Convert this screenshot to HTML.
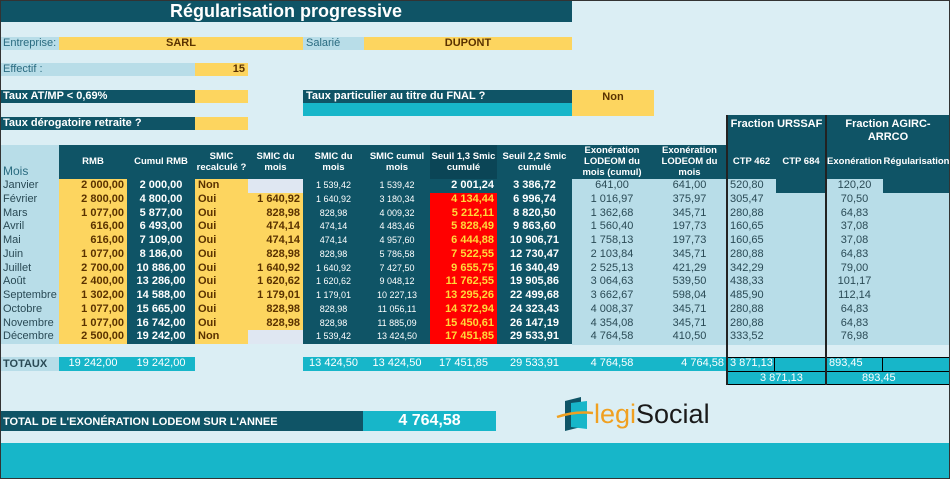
<!DOCTYPE html>
<html><head><meta charset="utf-8"><style>
*{margin:0;padding:0;box-sizing:border-box}
body{width:950px;height:479px;background:#dbeef4;font-family:"Liberation Sans",sans-serif;position:relative;overflow:hidden}
.a{position:absolute;white-space:nowrap;overflow:hidden}
.D{background:#0f5466;color:#fff}
.Y{background:#fdd55f;color:#5a3200}
.L{background:#b8dde8;color:#2a4a55}
.C{background:#17b6c9;color:#fff}
.R{background:#ff0000;color:#ffd83a}
.G{background:#dfe7f2}
.row{position:absolute;left:0;display:flex;height:13.75px}
.row div{height:13.75px;line-height:13.75px;font-size:11px;padding:0 3px;overflow:hidden;white-space:nowrap}
.b{font-weight:bold}
.r{text-align:right}.c{text-align:center}
.s{font-size:9px!important}
.hd{position:absolute;top:145px;height:33px;display:flex;align-items:center;justify-content:center;text-align:center;font-size:9.5px;font-weight:bold;color:#fff;line-height:11px}
</style></head><body>
<div class="a D" style="left:0;top:0;width:572px;height:22px;font-size:18px;font-weight:bold;text-align:center;line-height:22px">Régularisation progressive</div>

<div class="a L" style="left:0;top:37px;width:59px;height:13px;font-size:11px;line-height:13px;padding-left:3px;color:#2a6b80">Entreprise:</div>
<div class="a Y b" style="left:59px;top:37px;width:244px;height:13px;font-size:11px;line-height:13px;text-align:center">SARL</div>
<div class="a L" style="left:303px;top:37px;width:61px;height:13px;font-size:11px;line-height:13px;padding-left:3px;color:#2a6b80">Salarié</div>
<div class="a Y b" style="left:364px;top:37px;width:208px;height:13px;font-size:11px;line-height:13px;text-align:center">DUPONT</div>

<div class="a L" style="left:0;top:63px;width:195px;height:13px;font-size:11px;line-height:13px;padding-left:3px;color:#2a6b80">Effectif :</div>
<div class="a Y b" style="left:195px;top:63px;width:53px;height:13px;font-size:11px;line-height:13px;text-align:right;padding-right:3px">15</div>

<div class="a D b" style="left:0;top:90px;width:195px;height:13px;font-size:11px;line-height:13px;padding-left:3px">Taux AT/MP &lt; 0,69%</div>
<div class="a Y" style="left:195px;top:90px;width:53px;height:13px"></div>
<div class="a D b" style="left:303px;top:90px;width:269px;height:13px;font-size:11px;line-height:13px;padding-left:3px">Taux particulier au titre du FNAL ?</div>
<div class="a C" style="left:303px;top:103px;width:269px;height:13px"></div>
<div class="a Y b" style="left:572px;top:90px;width:82px;height:26px;font-size:11px;line-height:14px;text-align:center">Non</div>
<div class="a D b" style="left:0;top:117px;width:195px;height:13px;font-size:11px;line-height:13px;padding-left:3px">Taux dérogatoire retraite ?</div>
<div class="a Y" style="left:195px;top:117px;width:53px;height:13px"></div>

<div class="a D b" style="left:727px;top:115px;width:99px;height:30px;font-size:11px;text-align:center;line-height:18px">Fraction URSSAF</div>
<div class="a D b" style="left:826px;top:115px;width:124px;height:30px;font-size:11px;text-align:center;line-height:13px;padding-top:3px;white-space:normal">Fraction AGIRC-ARRCO</div>

<div class="a L" style="left:0;top:145px;width:59px;height:34px;font-size:12px;padding:19px 0 0 3px;color:#2a6b80">Mois</div>
<div class="a D" style="left:59px;top:145px;width:891px;height:34px"></div>
<div class="a" style="left:430px;top:145px;width:67px;height:34px;background:#0b4556"></div>
<div class="hd" style="left:59px;width:68px">RMB</div>
<div class="hd" style="left:127px;width:68px">Cumul RMB</div>
<div class="hd" style="left:195px;width:53px">SMIC recalculé ?</div>
<div class="hd" style="left:248px;width:55px">SMIC du mois</div>
<div class="hd" style="left:303px;width:61px">SMIC du mois</div>
<div class="hd" style="left:364px;width:66px">SMIC cumul mois</div>
<div class="hd" style="left:430px;width:67px">Seuil 1,3 Smic cumulé</div>
<div class="hd" style="left:497px;width:75px">Seuil 2,2 Smic cumulé</div>
<div class="hd" style="left:572px;width:80px">Exonération LODEOM du mois (cumul)</div>
<div class="hd" style="left:652px;width:75px">Exonération LODEOM du mois</div>
<div class="hd" style="left:727px;width:49px">CTP 462</div>
<div class="hd" style="left:776px;width:50px">CTP 684</div>
<div class="hd" style="left:826px;width:57px">Exonération</div>
<div class="hd" style="left:883px;width:67px">Régularisation</div>

<div class="a L" style="left:572px;top:179px;width:378px;height:166px"></div>

<div class="row" style="top:179px"><div class="L" style="width:59px">Janvier</div><div class="Y b r" style="width:68px">2 000,00</div><div class="D b c" style="width:68px">2 000,00</div><div class="Y b" style="width:53px">Non</div><div class="G" style="width:55px"></div><div class="D c s" style="width:61px">1 539,42</div><div class="D c s" style="width:66px">1 539,42</div><div class="D b r" style="width:67px;color:#fff">2 001,24</div><div class="D b c" style="width:75px">3 386,72</div><div class="L c" style="width:80px">641,00</div><div class="L c" style="width:75px">641,00</div><div class="L" style="width:49px">520,80</div><div class="D" style="width:50px"></div><div class="L c" style="width:57px">120,20</div><div class="D" style="width:67px"></div></div>
<div class="row" style="top:192.75px"><div class="L" style="width:59px">Février</div><div class="Y b r" style="width:68px">2 800,00</div><div class="D b c" style="width:68px">4 800,00</div><div class="Y b" style="width:53px">Oui</div><div class="Y b r" style="width:55px">1 640,92</div><div class="D c s" style="width:61px">1 640,92</div><div class="D c s" style="width:66px">3 180,34</div><div class="R b r" style="width:67px">4 134,44</div><div class="D b c" style="width:75px">6 996,74</div><div class="L c" style="width:80px">1 016,97</div><div class="L c" style="width:75px">375,97</div><div class="L" style="width:49px">305,47</div><div style="width:50px"></div><div class="L c" style="width:57px">70,50</div></div>
<div class="row" style="top:206.5px"><div class="L" style="width:59px">Mars</div><div class="Y b r" style="width:68px">1 077,00</div><div class="D b c" style="width:68px">5 877,00</div><div class="Y b" style="width:53px">Oui</div><div class="Y b r" style="width:55px">828,98</div><div class="D c s" style="width:61px">828,98</div><div class="D c s" style="width:66px">4 009,32</div><div class="R b r" style="width:67px">5 212,11</div><div class="D b c" style="width:75px">8 820,50</div><div class="L c" style="width:80px">1 362,68</div><div class="L c" style="width:75px">345,71</div><div class="L" style="width:49px">280,88</div><div style="width:50px"></div><div class="L c" style="width:57px">64,83</div></div>
<div class="row" style="top:220.25px"><div class="L" style="width:59px">Avril</div><div class="Y b r" style="width:68px">616,00</div><div class="D b c" style="width:68px">6 493,00</div><div class="Y b" style="width:53px">Oui</div><div class="Y b r" style="width:55px">474,14</div><div class="D c s" style="width:61px">474,14</div><div class="D c s" style="width:66px">4 483,46</div><div class="R b r" style="width:67px">5 828,49</div><div class="D b c" style="width:75px">9 863,60</div><div class="L c" style="width:80px">1 560,40</div><div class="L c" style="width:75px">197,73</div><div class="L" style="width:49px">160,65</div><div style="width:50px"></div><div class="L c" style="width:57px">37,08</div></div>
<div class="row" style="top:234px"><div class="L" style="width:59px">Mai</div><div class="Y b r" style="width:68px">616,00</div><div class="D b c" style="width:68px">7 109,00</div><div class="Y b" style="width:53px">Oui</div><div class="Y b r" style="width:55px">474,14</div><div class="D c s" style="width:61px">474,14</div><div class="D c s" style="width:66px">4 957,60</div><div class="R b r" style="width:67px">6 444,88</div><div class="D b c" style="width:75px">10 906,71</div><div class="L c" style="width:80px">1 758,13</div><div class="L c" style="width:75px">197,73</div><div class="L" style="width:49px">160,65</div><div style="width:50px"></div><div class="L c" style="width:57px">37,08</div></div>
<div class="row" style="top:247.75px"><div class="L" style="width:59px">Juin</div><div class="Y b r" style="width:68px">1 077,00</div><div class="D b c" style="width:68px">8 186,00</div><div class="Y b" style="width:53px">Oui</div><div class="Y b r" style="width:55px">828,98</div><div class="D c s" style="width:61px">828,98</div><div class="D c s" style="width:66px">5 786,58</div><div class="R b r" style="width:67px">7 522,55</div><div class="D b c" style="width:75px">12 730,47</div><div class="L c" style="width:80px">2 103,84</div><div class="L c" style="width:75px">345,71</div><div class="L" style="width:49px">280,88</div><div style="width:50px"></div><div class="L c" style="width:57px">64,83</div></div>
<div class="row" style="top:261.5px"><div class="L" style="width:59px">Juillet</div><div class="Y b r" style="width:68px">2 700,00</div><div class="D b c" style="width:68px">10 886,00</div><div class="Y b" style="width:53px">Oui</div><div class="Y b r" style="width:55px">1 640,92</div><div class="D c s" style="width:61px">1 640,92</div><div class="D c s" style="width:66px">7 427,50</div><div class="R b r" style="width:67px">9 655,75</div><div class="D b c" style="width:75px">16 340,49</div><div class="L c" style="width:80px">2 525,13</div><div class="L c" style="width:75px">421,29</div><div class="L" style="width:49px">342,29</div><div style="width:50px"></div><div class="L c" style="width:57px">79,00</div></div>
<div class="row" style="top:275.25px"><div class="L" style="width:59px">Août</div><div class="Y b r" style="width:68px">2 400,00</div><div class="D b c" style="width:68px">13 286,00</div><div class="Y b" style="width:53px">Oui</div><div class="Y b r" style="width:55px">1 620,62</div><div class="D c s" style="width:61px">1 620,62</div><div class="D c s" style="width:66px">9 048,12</div><div class="R b r" style="width:67px">11 762,55</div><div class="D b c" style="width:75px">19 905,86</div><div class="L c" style="width:80px">3 064,63</div><div class="L c" style="width:75px">539,50</div><div class="L" style="width:49px">438,33</div><div style="width:50px"></div><div class="L c" style="width:57px">101,17</div></div>
<div class="row" style="top:289px"><div class="L" style="width:59px">Septembre</div><div class="Y b r" style="width:68px">1 302,00</div><div class="D b c" style="width:68px">14 588,00</div><div class="Y b" style="width:53px">Oui</div><div class="Y b r" style="width:55px">1 179,01</div><div class="D c s" style="width:61px">1 179,01</div><div class="D c s" style="width:66px">10 227,13</div><div class="R b r" style="width:67px">13 295,26</div><div class="D b c" style="width:75px">22 499,68</div><div class="L c" style="width:80px">3 662,67</div><div class="L c" style="width:75px">598,04</div><div class="L" style="width:49px">485,90</div><div style="width:50px"></div><div class="L c" style="width:57px">112,14</div></div>
<div class="row" style="top:302.75px"><div class="L" style="width:59px">Octobre</div><div class="Y b r" style="width:68px">1 077,00</div><div class="D b c" style="width:68px">15 665,00</div><div class="Y b" style="width:53px">Oui</div><div class="Y b r" style="width:55px">828,98</div><div class="D c s" style="width:61px">828,98</div><div class="D c s" style="width:66px">11 056,11</div><div class="R b r" style="width:67px">14 372,94</div><div class="D b c" style="width:75px">24 323,43</div><div class="L c" style="width:80px">4 008,37</div><div class="L c" style="width:75px">345,71</div><div class="L" style="width:49px">280,88</div><div style="width:50px"></div><div class="L c" style="width:57px">64,83</div></div>
<div class="row" style="top:316.5px"><div class="L" style="width:59px">Novembre</div><div class="Y b r" style="width:68px">1 077,00</div><div class="D b c" style="width:68px">16 742,00</div><div class="Y b" style="width:53px">Oui</div><div class="Y b r" style="width:55px">828,98</div><div class="D c s" style="width:61px">828,98</div><div class="D c s" style="width:66px">11 885,09</div><div class="R b r" style="width:67px">15 450,61</div><div class="D b c" style="width:75px">26 147,19</div><div class="L c" style="width:80px">4 354,08</div><div class="L c" style="width:75px">345,71</div><div class="L" style="width:49px">280,88</div><div style="width:50px"></div><div class="L c" style="width:57px">64,83</div></div>
<div class="row" style="top:330.25px"><div class="L" style="width:59px">Décembre</div><div class="Y b r" style="width:68px">2 500,00</div><div class="D b c" style="width:68px">19 242,00</div><div class="Y b" style="width:53px">Non</div><div class="G" style="width:55px"></div><div class="D c s" style="width:61px">1 539,42</div><div class="D c s" style="width:66px">13 424,50</div><div class="R b r" style="width:67px">17 451,85</div><div class="D b c" style="width:75px">29 533,91</div><div class="L c" style="width:80px">4 764,58</div><div class="L c" style="width:75px">410,50</div><div class="L" style="width:49px">333,52</div><div style="width:50px"></div><div class="L c" style="width:57px">76,98</div></div>

<div class="a L b" style="left:0;top:357px;width:59px;height:14px;font-size:11px;line-height:14px;padding-left:3px">TOTAUX</div>
<div class="a C" style="left:59px;top:357px;width:136px;height:14px"></div>
<div class="a C" style="left:303px;top:357px;width:647px;height:14px"></div>
<div class="a C" style="left:727px;top:371px;width:223px;height:14px"></div>
<div class="row" style="top:357px;left:0"><div style="width:59px"></div><div class="c" style="width:68px;color:#fff">19 242,00</div><div class="c" style="width:68px;color:#fff">19 242,00</div><div style="width:108px"></div><div class="c" style="width:61px;color:#fff">13 424,50</div><div class="c" style="width:66px;color:#fff">13 424,50</div><div class="c" style="width:67px;color:#fff">17 451,85</div><div class="c" style="width:75px;color:#fff">29 533,91</div><div class="c" style="width:80px;color:#fff">4 764,58</div><div class="r" style="width:75px;color:#fff">4 764,58</div><div style="width:49px;color:#fff">3 871,13</div><div style="width:50px"></div><div style="width:57px;color:#fff">893,45</div></div>
<div class="a" style="left:760px;top:371px;font-size:11px;color:#fff;line-height:14px">3 871,13</div>
<div class="a" style="left:862px;top:371px;font-size:11px;color:#fff;line-height:14px">893,45</div>
<div class="a" style="left:727px;top:357px;width:223px;height:28px;border:1px solid #000;border-left-width:1.5px"></div>
<div class="a" style="left:727px;top:371px;width:223px;height:1px;background:#000"></div>
<div class="a" style="left:774px;top:357px;width:1px;height:14px;background:#000"></div>
<div class="a" style="left:882px;top:357px;width:1px;height:14px;background:#000"></div>
<div class="a" style="left:726px;top:115px;width:2px;height:270px;background:#222"></div>
<div class="a" style="left:825px;top:115px;width:2px;height:270px;background:#222"></div>

<div class="a D" style="left:0;top:411px;width:363px;height:20px;font-size:11px;line-height:22px;padding-left:3px;font-weight:bold">TOTAL DE L'EXONÉRATION LODEOM SUR L'ANNEE</div>
<div class="a C b" style="left:363px;top:411px;width:133px;height:20px;font-size:16px;line-height:20px;text-align:center">4 764,58</div>

<svg class="a" style="left:555px;top:397px" width="40" height="36"><path d="M10 4 L26 0 L26 30 L10 34Z" fill="#0f5466"/><path d="M16 6 L32 4 L32 32 L16 30Z" fill="#17b6c9"/><path d="M2 20 Q20 14 38 16" stroke="#f0a020" stroke-width="2.5" fill="none"/></svg>
<div class="a" style="left:594px;top:397px;font-size:27px;line-height:34px;color:#1a1a1a"><span style="color:#f0a020">legi</span>Social</div>

<div class="a C" style="left:0;top:443px;width:950px;height:36px"></div>
<div class="a" style="left:0;top:0;width:950px;height:479px;border:1px solid #333"></div>
</body></html>
